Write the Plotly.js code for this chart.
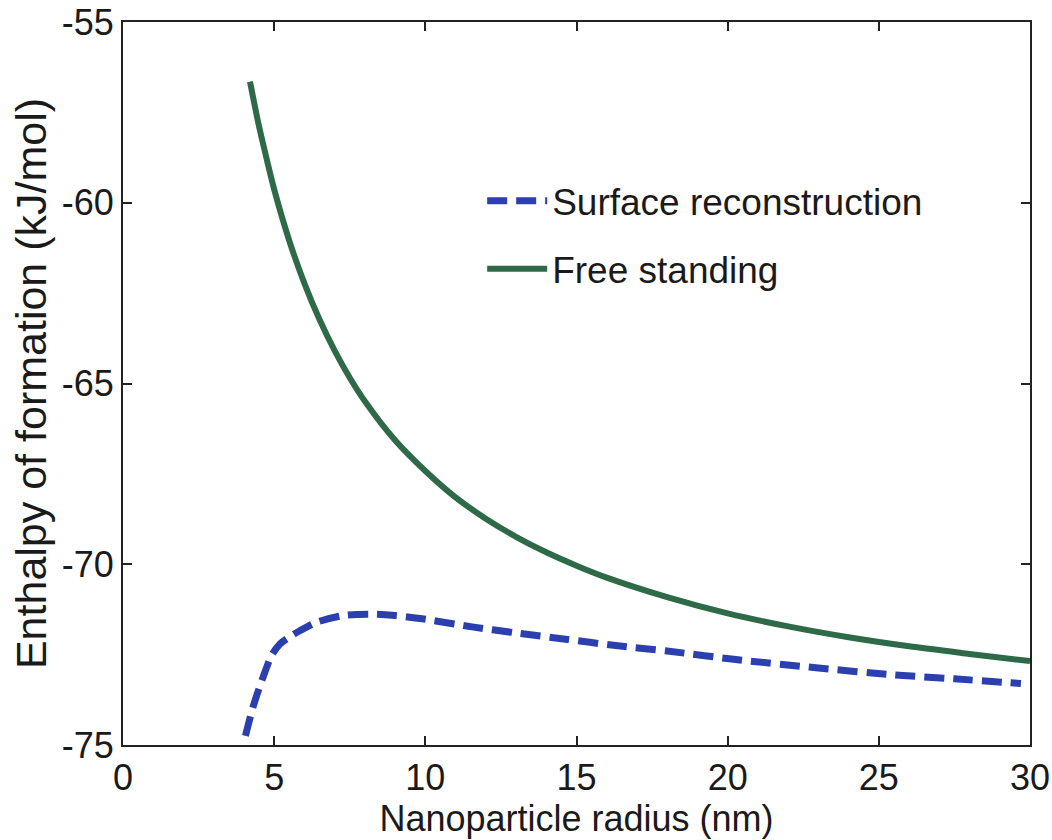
<!DOCTYPE html>
<html>
<head>
<meta charset="utf-8">
<script src="https://cdn.plot.ly/plotly-3.0.1.min.js"></script>
<style>html,body{margin:0;padding:0;background:#fff;}#chart{width:1052px;height:840px;}</style>
</head>
<body>
<div id="chart"></div>
<script>
// Free standing (green solid)
const freeR = [4.2, 4.5, 4.77, 5, 5.5, 6, 6.5, 7, 7.5, 8, 9, 10, 11, 12, 13, 14, 15, 16, 18, 20, 22, 24, 26, 28, 30];
const freeH = [-56.65, -57.89, -58.85, -59.63, -61.05, -62.23, -63.23, -64.09, -64.84, -65.49, -66.57, -67.42, -68.15, -68.74, -69.24, -69.67, -70.04, -70.37, -70.91, -71.36, -71.72, -72.02, -72.27, -72.48, -72.68];
// Surface reconstruction (blue dashed)
const surfR = [4.05, 4.3, 4.6, 4.93, 5.2, 5.53, 5.85, 6.42, 7.28, 8.2, 9.0, 9.83, 11.6, 13.0, 14.7, 16.3, 18.0, 20.2, 23.0, 25.5, 27.5, 29.7];
const surfH = [-74.75, -73.95, -73.2, -72.5, -72.2, -72.0, -71.84, -71.6, -71.42, -71.38, -71.42, -71.5, -71.74, -71.9, -72.08, -72.25, -72.4, -72.63, -72.87, -73.06, -73.17, -73.3];
const seriesNames = ["Surface reconstruction", "Free standing"];
const xTicks = [0, 5, 10, 15, 20, 25, 30];
const yTicks = [-75, -70, -65, -60, -55];

const FONT = 'Liberation Sans, Arial, sans-serif';

const traces = [
  {x: surfR, y: surfH, name: seriesNames[0], legendgroup: 'a', mode: 'lines', type: 'scatter',
   line: {color: '#2b3fae', width: 7, dash: '20px,9px', shape: 'spline', smoothing: 0.8}},
  {x: freeR, y: freeH, name: seriesNames[1], legendgroup: 'b', mode: 'lines', type: 'scatter',
   line: {color: '#2f6a48', width: 6, shape: 'spline', smoothing: 0.8}}
];

const axisCommon = {
  showgrid: false, zeroline: false, showline: true, linecolor: '#222', linewidth: 2,
  mirror: 'ticks', ticks: 'inside', ticklen: 9, tickwidth: 2, tickcolor: '#222',
  tickfont: {family: FONT, size: 36, color: '#1a1a1a'}
};

const layout = {
  width: 1052, height: 840,
  paper_bgcolor: '#ffffff', plot_bgcolor: '#ffffff',
  margin: {l: 123, r: 22, t: 22, b: 95},
  showlegend: true,
  legend: {x: 0.396, y: 0.795, xanchor: 'left', yanchor: 'top',
           bgcolor: 'rgba(0,0,0,0)', borderwidth: 0,
           font: {family: FONT, size: 37, color: '#1a1a1a'},
           itemwidth: 60, traceorder: 'grouped', tracegroupgap: 17},
  xaxis: Object.assign({}, axisCommon, {
    range: [0, 30], tickvals: xTicks, ticktext: xTicks.map(String),
    title: {text: 'Nanoparticle radius (nm)', font: {family: FONT, size: 36, color: '#1a1a1a'}, standoff: 2}
  }),
  yaxis: Object.assign({}, axisCommon, {
    range: [-75, -55], tickvals: yTicks, ticktext: yTicks.map(String),
    title: {text: 'Enthalpy of formation (kJ/mol)', font: {family: FONT, size: 43, color: '#1a1a1a'}, standoff: 2}
  })
};

Plotly.newPlot('chart', traces, layout, {displayModeBar: false, staticPlot: true});
</script>
</body>
</html>
